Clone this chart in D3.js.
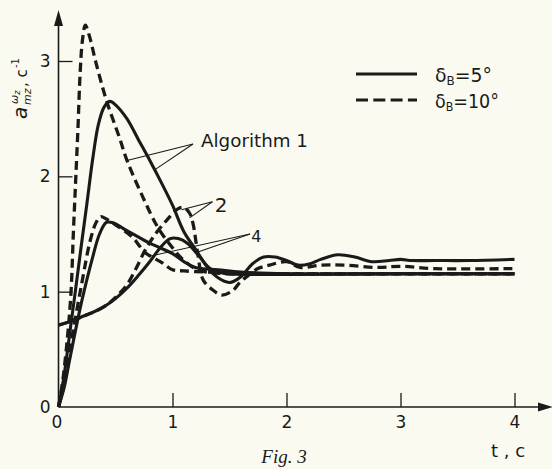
<!DOCTYPE html>
<html><head><meta charset="utf-8">
<script src="https://cdn.jsdelivr.net/npm/d3@7"></script>
<style>
html,body{margin:0;padding:0;background:#fbfaf0;}
svg{display:block;}
</style></head>
<body>
<svg id="c" width="552" height="469"></svg>
<script>
// ---------- data ----------
const xTickValues = [0, 1, 2, 3, 4];
const yTickValues = [0, 1, 2, 3];

// Algorithm 1, delta_B = 5 deg (solid)
const tA1s = [0,0.05,0.1,0.15,0.2,0.25,0.3,0.35,0.4,0.45,0.5,0.6,0.7,0.8,0.9,1.0,1.1,1.2,1.3,1.4,1.5,1.6,1.7,1.8,1.9,2.0,2.1,2.2,2.3,2.45,2.6,2.75,2.9,3.0,3.1,3.3,3.6,4.0];
const vA1s = [0,0.28,0.65,1.02,1.4,1.77,2.15,2.45,2.6,2.65,2.62,2.5,2.32,2.14,1.95,1.75,1.52,1.37,1.22,1.12,1.08,1.13,1.24,1.3,1.3,1.27,1.23,1.24,1.28,1.32,1.3,1.26,1.27,1.28,1.27,1.27,1.27,1.28];
// Algorithm 1, delta_B = 10 deg (dashed)
const tA1d = [0,0.04,0.08,0.11,0.13,0.15,0.17,0.19,0.21,0.235,0.27,0.33,0.42,0.54,0.6,0.74,0.87,1.0,1.1,1.2,1.3,1.5,2.0,3.0,4.0];
const vA1d = [0,0.25,0.62,1.0,1.5,1.95,2.4,2.9,3.18,3.31,3.22,2.98,2.66,2.32,2.14,1.82,1.56,1.38,1.27,1.2,1.17,1.155,1.155,1.155,1.155];
// Algorithm 2, delta_B = 5 deg (solid)
const tA2s = [0,0.1,0.2,0.3,0.4,0.5,0.6,0.7,0.8,0.9,0.98,1.05,1.13,1.24,1.33,1.45,1.6,2.0,3.0,4.0];
const vA2s = [0.71,0.74,0.78,0.82,0.87,0.94,1.03,1.14,1.26,1.39,1.46,1.46,1.42,1.3,1.2,1.16,1.15,1.15,1.155,1.155];
// Algorithm 2, delta_B = 10 deg (dashed)
const tA2d = [0,0.1,0.2,0.3,0.4,0.5,0.6,0.68,0.76,0.85,0.95,1.05,1.1,1.15,1.18,1.22,1.27,1.36,1.43,1.53,1.59,1.65,1.75,1.85,2.0,2.12,2.3,2.5,2.8,3.0,3.3,4.0];
const vA2d = [0.71,0.74,0.78,0.82,0.87,0.95,1.06,1.2,1.36,1.5,1.62,1.72,1.73,1.68,1.59,1.34,1.1,1.01,0.97,1.01,1.08,1.13,1.2,1.23,1.26,1.21,1.23,1.23,1.21,1.22,1.2,1.2];
// Algorithm 4, delta_B = 5 deg (solid)
const tA4s = [0,0.05,0.1,0.2,0.3,0.36,0.42,0.47,0.6,0.8,1.0,1.1,1.2,1.4,1.6,2.0,3.0,4.0];
const vA4s = [0,0.17,0.42,0.9,1.3,1.5,1.6,1.6,1.53,1.42,1.33,1.26,1.21,1.19,1.17,1.155,1.155,1.155];
// Algorithm 4, delta_B = 10 deg (dashed)
const tA4d = [0,0.05,0.1,0.2,0.28,0.33,0.37,0.42,0.5,0.65,0.76,0.91,1.0,1.1,1.3,1.6,2.0,3.0,4.0];
const vA4d = [0,0.2,0.5,1.05,1.45,1.6,1.65,1.63,1.58,1.47,1.34,1.25,1.19,1.18,1.17,1.16,1.155,1.155,1.155];

const seriesSolid  = [[tA1s,vA1s],[tA2s,vA2s],[tA4s,vA4s]];
const seriesDashed = [[tA1d,vA1d],[tA2d,vA2d],[tA4d,vA4d]];

const legendLabels = [["5°", false], ["10°", true]];

// annotation anchors in data units [t, v]
const annAlg1 = {text: "Algorithm 1", at: [1.25, 2.255], from: [1.18, 2.28], to: [[0.61, 2.14], [0.85, 2.06]]};
const ann2 = {text: "2", at: [1.37, 1.69], from: [1.35, 1.78], to: [[1.08, 1.71], [1.15, 1.64]]};
const ann4 = {text: "4", at: [1.69, 1.43], from: [1.68, 1.5], to: [[0.81, 1.31], [1.21, 1.34]]};

// ---------- drawing ----------
const ink = "#1a1a1a";
const svg = d3.select("#c");
const x = d3.scaleLinear().domain([0, 4]).range([58.5, 514.5]);
const y = d3.scaleLinear().domain([0, 3]).range([407, 61]);

// axes
const gx = svg.append("g").attr("transform", `translate(0,${y(0)})`)
  .call(d3.axisBottom(x).tickValues(xTickValues).tickSize(-14).tickPadding(9).tickFormat(d3.format("d")));
const gy = svg.append("g").attr("transform", `translate(${x(0)},0)`)
  .call(d3.axisLeft(y).tickValues(yTickValues).tickSize(-14).tickPadding(8).tickFormat(d3.format("d")));
[gx, gy].forEach(g => {
  g.select(".domain").remove();
  g.selectAll("line").attr("stroke", ink).attr("stroke-width", 1.3);
  g.selectAll("text").attr("fill", ink).style("font-family", "DejaVu Sans, sans-serif").style("font-size", "17px");
});
gx.selectAll(".tick").filter(d => d === 0).select("line").remove();
gy.selectAll(".tick").filter(d => d === 0).select("line").remove();
gx.selectAll(".tick").filter(d => d === 0).select("text").attr("x", -2);
gy.selectAll(".tick").filter(d => d === 0).select("text").attr("x", -8).attr("dy", "0.3em");

// axis lines with arrows
svg.append("line").attr("x1", x(0)).attr("x2", 540).attr("y1", y(0)).attr("y2", y(0)).attr("stroke", ink).attr("stroke-width", 1.6);
svg.append("line").attr("x1", x(0)).attr("x2", x(0)).attr("y1", y(0)).attr("y2", 24).attr("stroke", ink).attr("stroke-width", 1.6);
svg.append("path").attr("d", `M${x(0)},10 L${x(0)-4.5},26 L${x(0)+4.5},26 Z`).attr("fill", ink);
svg.append("path").attr("d", `M553,${y(0)} L538,${y(0)-4.5} L538,${y(0)+4.5} Z`).attr("fill", ink);

// curves
const line = d3.line().x(d => x(d[0])).y(d => y(d[1])).curve(d3.curveCatmullRom.alpha(0.5));
const toPts = (t, v) => t.map((ti, i) => [ti, v[i]]);
seriesSolid.forEach(([t, v]) => {
  svg.append("path").attr("d", line(toPts(t, v))).attr("fill", "none")
    .attr("stroke", ink).attr("stroke-width", 3.1).attr("stroke-linejoin", "round");
});
seriesDashed.forEach(([t, v]) => {
  svg.append("path").attr("d", line(toPts(t, v))).attr("fill", "none")
    .attr("stroke", ink).attr("stroke-width", 3.3).attr("stroke-dasharray", "9,5");
});

// annotations
const font = "DejaVu Sans, sans-serif";
function annotate(a, size, len) {
  a.to.forEach(p => {
    svg.append("line").attr("x1", x(a.from[0])).attr("y1", y(a.from[1]))
      .attr("x2", x(p[0])).attr("y2", y(p[1])).attr("stroke", ink).attr("stroke-width", 1.1);
  });
  const t = svg.append("text").attr("x", x(a.at[0])).attr("y", y(a.at[1]))
    .attr("fill", ink).style("font-family", font).style("font-size", size + "px").text(a.text);
  if (len) t.attr("textLength", len).attr("lengthAdjust", "spacingAndGlyphs");
}
annotate(annAlg1, 17, 107);
annotate(ann2, 20);
annotate(ann4, 16);

// legend
legendLabels.forEach(([lab, dashed], i) => {
  const ly = 74 + i * 26;
  svg.append("line").attr("x1", 356).attr("x2", 417).attr("y1", ly).attr("y2", ly)
    .attr("stroke", ink).attr("stroke-width", 3.2).attr("stroke-dasharray", dashed ? "12,5.3" : null);
  const t = svg.append("text").attr("x", 435).attr("y", ly + 7.5).attr("fill", ink)
    .style("font-family", font).style("font-size", "19px");
  t.append("tspan").text("δ");
  t.append("tspan").attr("dy", 3).style("font-size", "12px").text("B");
  t.append("tspan").attr("dy", -3).text("=" + lab);
  t.attr("textLength", i === 0 ? 57 : 64).attr("lengthAdjust", "spacingAndGlyphs");
});

// y axis label (rotated)
const yl = svg.append("g").attr("transform", "translate(27,121) rotate(-90)")
  .attr("fill", ink).style("font-family", font);
yl.append("text").attr("x", 2).attr("y", 0).style("font-size", "20px").style("font-style", "italic").text("a");
const sup = yl.append("text").attr("x", 17).attr("y", -9).style("font-size", "11px").style("font-style", "italic");
sup.append("tspan").text("ω");
sup.append("tspan").attr("dy", 2).style("font-size", "8px").text("z");
yl.append("text").attr("x", 16).attr("y", 4).style("font-size", "11px").style("font-style", "italic").text("mz");
yl.append("text").attr("x", 34).attr("y", 0).style("font-size", "15px").text(", c");
yl.append("text").attr("x", 53).attr("y", -8).style("font-size", "10px").text("-1");

// x axis label
svg.append("text").attr("x", 491).attr("y", 457).attr("fill", ink)
  .style("font-family", font).style("font-size", "18px").text("t , c");

// caption
svg.append("text").attr("x", 284).attr("y", 463).attr("text-anchor", "middle").attr("fill", ink)
  .style("font-family", "Liberation Serif, serif").style("font-style", "italic").style("font-size", "19px").text("Fig. 3");
</script>
</body></html>
